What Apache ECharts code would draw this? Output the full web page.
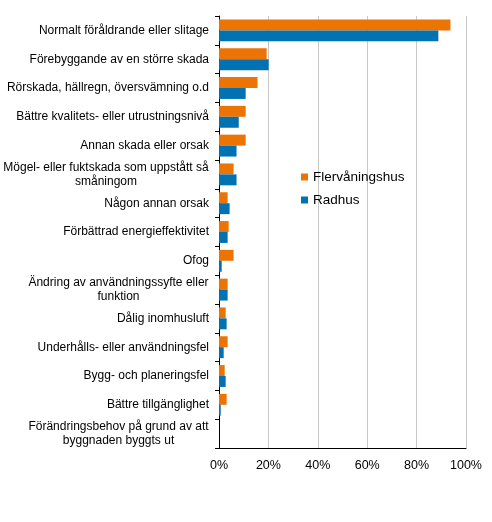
<!DOCTYPE html>
<html>
<head>
    <meta charset="utf-8" />
    <title></title>
    <script src="https://cdn.jsdelivr.net/npm/echarts@6/dist/echarts.min.js"></script>
    <style>
        html, body { margin: 0; padding: 0; background: #fff; }
    </style>
</head>
<body>
    <div id="main" style="width: 492px; height: 522px;"></div>
    <script type="text/javascript">
        // kategorier, uppifrån och ned
        var categories = [
            'Normalt föråldrande eller slitage',
            'Förebyggande av en större skada',
            'Rörskada, hällregn, översvämning o.d',
            'Bättre kvalitets- eller utrustningsnivå',
            'Annan skada eller orsak',
            'Mögel- eller fuktskada som uppstått så\nsmåningom',
            'Någon annan orsak',
            'Förbättrad energieffektivitet',
            'Ofog',
            'Ändring av användningssyfte eller\nfunktion',
            'Dålig inomhusluft',
            'Underhålls- eller användningsfel',
            'Bygg- och planeringsfel',
            'Bättre tillgänglighet',
            'Förändringsbehov på grund av att\nbyggnaden byggts ut'
        ];
        var flervaningshus = [93.7, 19.3, 15.6, 10.8, 10.8, 5.9, 3.5, 3.9, 5.9, 3.5, 2.7, 3.5, 2.3, 3.1, 0];
        var radhus = [88.8, 20.1, 10.8, 8.0, 7.1, 7.1, 4.3, 3.5, 1.1, 3.5, 3.1, 1.9, 2.7, 0.7, 0];
        var xTicks = [0, 20, 40, 60, 80, 100];

        var font = 'Liberation Sans, Arial, sans-serif';

        // flerradiga etiketter centreras rad för rad
        var ctx = document.createElement('canvas').getContext('2d');
        ctx.font = '12px ' + font;
        var rich = {};
        var labelText = categories.map(function (c, i) {
            var lines = c.split('\n');
            if (lines.length < 2) return c;
            var w = 0;
            lines.forEach(function (l) { w = Math.max(w, ctx.measureText(l).width); });
            rich['m' + i] = { width: Math.ceil(w), align: 'center', fontSize: 12, lineHeight: 14, color: '#000', fontFamily: font };
            return lines.map(function (l) { return '{m' + i + '|' + l + '}'; }).join('\n');
        });

        var myChart = echarts.init(document.getElementById('main'));
        var option = {
            animation: false,
            backgroundColor: '#ffffff',
            color: ['#EC7404', '#0072B1'],
            textStyle: { fontFamily: font },
            legend: {
                orient: 'vertical',
                left: 296,
                top: 165,
                itemWidth: 7,
                itemHeight: 7,
                itemGap: 9,
                icon: 'rect',
                textStyle: { fontSize: 13.5, color: '#000', fontFamily: font },
                data: ['Flervåningshus', 'Radhus']
            },
            grid: {
                left: 218,
                right: 26,
                top: 16,
                bottom: 74,
                containLabel: false
            },
            xAxis: {
                type: 'value',
                min: xTicks[0],
                max: xTicks[xTicks.length - 1],
                interval: 20,
                axisLine: { show: true, lineStyle: { color: '#000', width: 1 } },
                axisTick: { show: false },
                axisLabel: {
                    formatter: '{value}%',
                    color: '#000',
                    fontSize: 12.5,
                    margin: 11,
                    fontFamily: font
                },
                splitLine: { show: true, lineStyle: { color: '#c8c8c8', width: 1 } }
            },
            yAxis: {
                type: 'category',
                inverse: true,
                data: categories,
                axisLine: { show: true, lineStyle: { color: '#000', width: 1 } },
                axisTick: { show: true, length: 4, lineStyle: { color: '#000' } },
                axisLabel: {
                    color: '#000',
                    fontSize: 12,
                    margin: 10,
                    lineHeight: 14,
                    interval: 0,
                    fontFamily: font,
                    formatter: function (value, index) {
                        return labelText[index];
                    },
                    rich: rich
                }
            },
            series: [
                {
                    name: 'Flervåningshus',
                    type: 'bar',
                    barGap: '0%',
                    barCategoryGap: '24%',
                    data: flervaningshus
                },
                {
                    name: 'Radhus',
                    type: 'bar',
                    barGap: '0%',
                    barCategoryGap: '24%',
                    data: radhus
                }
            ]
        };
        myChart.setOption(option);
    </script>
</body>
</html>
